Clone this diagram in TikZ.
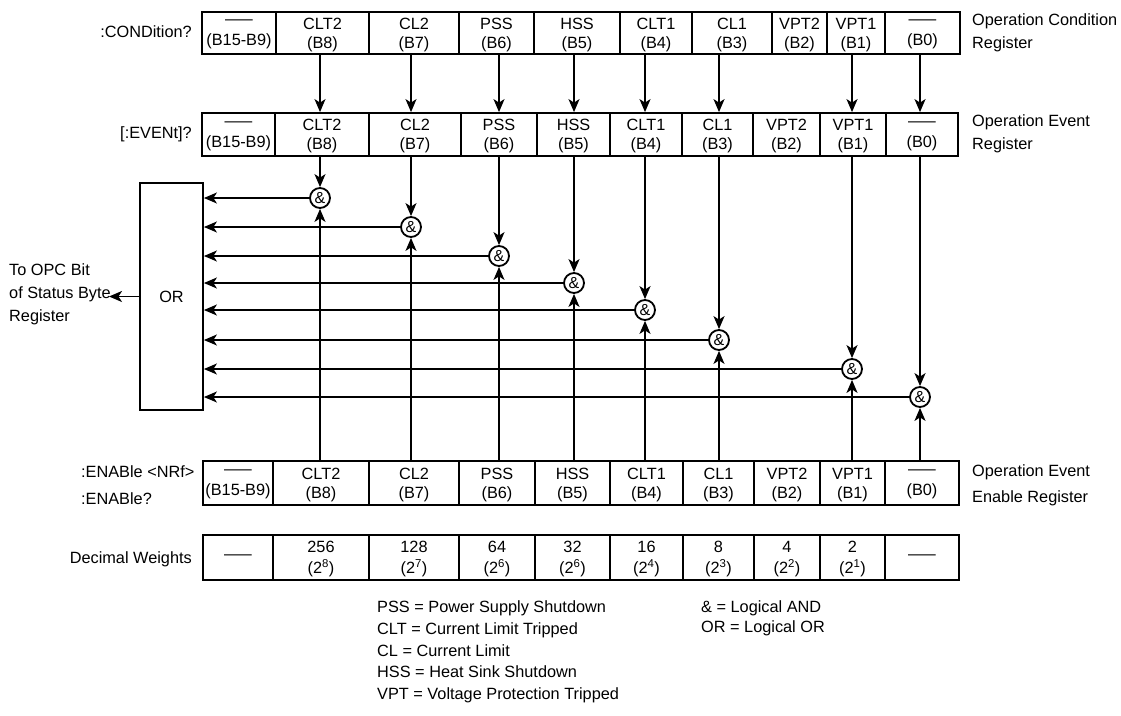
\documentclass[tikz,border=0pt]{standalone}
\usepackage{fontspec}
\setmainfont{Liberation Sans}
\usepackage{graphicx}
\usetikzlibrary{arrows.meta}
\newcommand\regdash{\raisebox{2pt}{\scalebox{1.7}[1]{—}}}
\newcommand\wdash{\scalebox{1.7}[1]{—}}
\begin{document}
\begin{tikzpicture}[x=1pt,y=-1pt,
  every node/.style={font=\fontsize{16.3}{19}\selectfont},
  regcell/.style={draw, line width=1.8pt, inner sep=0pt, align=center, text depth=0pt},
  andg/.style={draw, circle, line width=1.8pt, minimum size=20pt, inner sep=0pt, font=\fontsize{16}{16}\selectfont},
  orbox/.style={draw, line width=1.8pt, inner sep=0pt, minimum width=63pt, minimum height=227pt},
  conn/.style={line width=1.7pt, -{Stealth[length=13pt,width=11pt,inset=3.5pt]}},
  lbl/.style={inner sep=0pt}]
\useasboundingbox (0,0) rectangle (1121,715);

% Operation Condition Register
\foreach \n/\xa/\xb/\ta/\tb in {9/202/276/\regdash/(B15-B9), 8/276/369/CLT2/(B8), 7/369/459/CL2/(B7),
  6/459/534/PSS/(B6), 5/534/620/HSS/(B5), 4/620/692/CLT1/(B4), 3/692/772/CL1/(B3),
  2/772/827/VPT2/(B2), 1/827/885/VPT1/(B1), 0/885/960/\regdash/(B0)}
  \node[regcell, minimum width={(\xb-\xa)*1pt}, minimum height=42pt] (c\n) at ({(\xa+\xb)/2},33) {\ta\\\tb};

% Operation Event Register
\foreach \n/\xa/\xb/\ta/\tb in {9/202/275/\regdash/(B15-B9), 8/275/369/CLT2/(B8), 7/369/461/CL2/(B7),
  6/461/537/PSS/(B6), 5/537/610/HSS/(B5), 4/610/682/CLT1/(B4), 3/682/753/CL1/(B3),
  2/753/820/VPT2/(B2), 1/820/886/VPT1/(B1), 0/886/958/\regdash/(B0)}
  \node[regcell, minimum width={(\xb-\xa)*1pt}, minimum height=43pt] (e\n) at ({(\xa+\xb)/2},134.5) {\ta\\\tb};

% Operation Event Enable Register
\foreach \n/\xa/\xb/\ta/\tb in {9/203/273/\regdash/(B15-B9), 8/273/369/CLT2/(B8), 7/369/459/CL2/(B7),
  6/459/535/PSS/(B6), 5/535/610/HSS/(B5), 4/610/683/CLT1/(B4), 3/683/754/CL1/(B3),
  2/754/820/VPT2/(B2), 1/820/885/VPT1/(B1), 0/885/959/\regdash/(B0)}
  \node[regcell, minimum width={(\xb-\xa)*1pt}, minimum height=44pt] (n\n) at ({(\xa+\xb)/2},483) {\ta\\\tb};

% Decimal Weights
\foreach \n/\xa/\xb/\txt in {9/203/273/\wdash, 8/273/369/256\\(2\textsuperscript{8}), 7/369/459/128\\(2\textsuperscript{7}),
  6/459/535/64\\(2\textsuperscript{6}), 5/535/610/32\\(2\textsuperscript{6}), 4/610/683/16\\(2\textsuperscript{4}),
  3/683/754/8\\(2\textsuperscript{3}), 2/754/820/4\\(2\textsuperscript{2}), 1/820/885/2\\(2\textsuperscript{1}), 0/885/959/\wdash}
  \node[regcell, font=\fontsize{16.3}{21}\selectfont, minimum width={(\xb-\xa)*1pt}, minimum height=45pt] (w\n) at ({(\xa+\xb)/2},557.5) {\txt};

% OR box
\node[orbox] (or) at (171.5,296.5) {OR};

% AND gates
\foreach \n/\x/\y in {8/320/198, 7/411/227, 6/499/256, 5/574/283, 4/645/310, 3/719/340, 1/852/369, 0/920/397}
  \node[andg] (a\n) at (\x,\y) {\&};

% connectors
\foreach \n in {8,7,6,5,4,3,1,0}{
  \draw[conn] (a\n |- c\n.south) -- (a\n |- e\n.north);
  \draw[conn] (a\n |- e\n.south) -- (a\n.north);
  \draw[conn] (a\n |- n\n.north) -- (a\n.south);
  \draw[conn] (a\n.west) -- (a\n -| or.east);
}
\coordinate (opc) at (109,296.5);
\draw[conn] (or.west) -- (opc);

% labels
\node[lbl, anchor=east] (condq) at (192,32) {:CONDition?};
\node[lbl, anchor=east] (eventq) at (192,134) {[:EVENt]?};
\node[lbl, anchor=west, align=left, font=\fontsize{16.3}{27}\selectfont] (enableq) at (81,485) {:ENABle <NRf>\\:ENABle?};
\node[lbl, anchor=east] (decw) at (192,559) {Decimal Weights};
\node[lbl, anchor=west, align=left, font=\fontsize{16.3}{23}\selectfont] (opclbl) at (9,294) {To OPC Bit\\of Status Byte\\Register};

\node[lbl, anchor=west, align=left, font=\fontsize{16.3}{23}\selectfont] (condname) at (972,33) {Operation Condition\\Register};
\node[lbl, anchor=west, align=left, font=\fontsize{16.3}{23}\selectfont] (eventname) at (972,134) {Operation Event\\Register};
\node[lbl, anchor=west, align=left, font=\fontsize{16.3}{26}\selectfont] (enablename) at (972,485) {Operation Event\\Enable Register};

% legend
\node[lbl, anchor=west, align=left, font=\fontsize{16.3}{21.75}\selectfont] (legend) at (377,652)
  {PSS = Power Supply Shutdown\\CLT = Current Limit Tripped\\CL = Current Limit\\HSS = Heat Sink Shutdown\\VPT = Voltage Protection Tripped};
\node[lbl, anchor=west, align=left, font=\fontsize{16.3}{20}\selectfont] (legend2) at (701,618)
  {\& = Logical AND\\OR = Logical OR};
\end{tikzpicture}
\end{document}
